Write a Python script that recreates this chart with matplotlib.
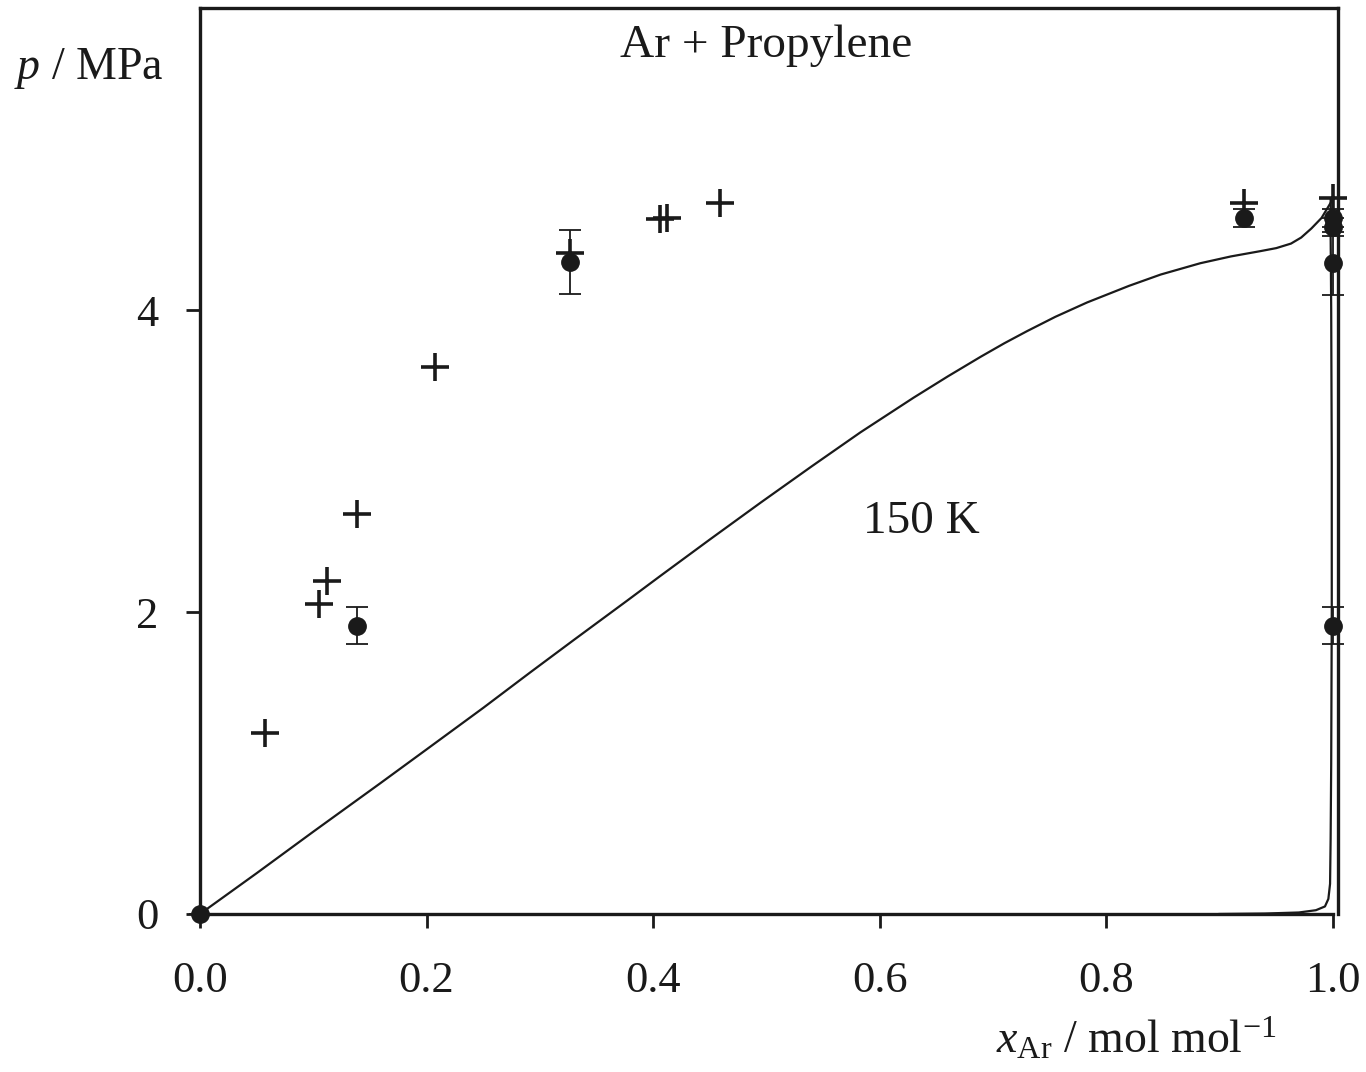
import numpy as np
import matplotlib
matplotlib.use("Agg")
import matplotlib.pyplot as plt

plt.rcParams['font.family'] = ['Liberation Serif', 'DejaVu Serif']
plt.rcParams['mathtext.fontset'] = 'custom'
plt.rcParams['mathtext.rm'] = 'Liberation Serif'
plt.rcParams['mathtext.it'] = 'Liberation Serif:italic'

# Measured liquid/vapour compositions with uncertainty in pressure
meas_x = [0.0, 0.1386, 0.3266, 0.9214, 1.0, 1.0, 1.0, 1.0]
meas_p = [0.0, 1.910, 4.317, 4.607, 4.607, 4.550, 4.310, 1.910]
meas_err = [0.0, 0.125, 0.21, 0.06, 0.06, 0.06, 0.21, 0.125]

# Literature data
lit_x = [0.0574, 0.105, 0.112, 0.1386, 0.2074, 0.3266, 0.406, 0.412, 0.459, 0.9214, 1.0]
lit_p = [1.197, 2.056, 2.208, 2.650, 3.623, 4.377, 4.600, 4.610, 4.710, 4.707, 4.740]

# Model bubble-point curve at 150 K
bub_x = [0.0, 0.05, 0.1, 0.159, 0.2, 0.25, 0.2915, 0.33, 0.377, 0.406, 0.45,
         0.495, 0.54, 0.583, 0.63, 0.66, 0.689, 0.71, 0.73, 0.755, 0.783,
         0.82, 0.848, 0.883, 0.91, 0.936, 0.95, 0.963, 0.972, 0.981, 0.99,
         0.998, 1.0]
bub_p = [0.0, 0.27, 0.545, 0.865, 1.09, 1.365, 1.60, 1.815, 2.075, 2.237, 2.48,
         2.725, 2.965, 3.19, 3.42, 3.56, 3.69, 3.78, 3.86, 3.955, 4.05,
         4.16, 4.235, 4.31, 4.355, 4.39, 4.41, 4.44, 4.48, 4.54, 4.61,
         4.71, 4.74]

# Model dew-point curve at 150 K
dew_x = [0.90, 0.94, 0.97, 0.985, 0.993, 0.996, 0.9975, 0.998, 0.9985, 0.999,
         0.999, 0.9985, 0.998, 0.998]
dew_p = [0.0, 0.003, 0.01, 0.025, 0.05, 0.10, 0.20, 0.50, 1.0, 2.0,
         3.0, 4.0, 4.5, 4.74]

x_ticks = [0.0, 0.2, 0.4, 0.6, 0.8, 1.0]
x_ticklabels = ['0.0', '0.2', '0.4', '0.6', '0.8', '1.0']
y_ticks = [0, 2, 4]
y_ticklabels = ['0', '2', '4']

fig = plt.figure(figsize=(13.66, 10.72), dpi=100)
ax = fig.add_axes([0.1464, 0.1474, 0.9795 - 0.1464, 0.9925 - 0.1474])

ax.plot(bub_x, bub_p, color='#1a1a1a', lw=1.6, zorder=2)
ax.plot(dew_x, dew_p, color='#1a1a1a', lw=1.6, zorder=2)

ax.errorbar(meas_x, meas_p, yerr=meas_err, fmt='o', color='#1a1a1a',
            ms=12.5, elinewidth=1.3, capsize=8, capthick=1.3, zorder=4,
            clip_on=False)
ax.plot(lit_x, lit_p, linestyle='none', marker='+', color='#1a1a1a',
        ms=20, mew=2.6, zorder=5, clip_on=False)

ax.set_xlim(0, 1.0045)
ax.set_ylim(0, 6)
ax.set_xticks(x_ticks)
ax.set_xticklabels(x_ticklabels)
ax.set_yticks(y_ticks)
ax.set_yticklabels(y_ticklabels)
ax.tick_params(direction='out', length=10, width=2, labelsize=32,
               colors='#1a1a1a')
ax.tick_params(axis='x', pad=24)
ax.tick_params(axis='y', pad=20)

for s in ax.spines.values():
    s.set_linewidth(2.4)
    s.set_color('#1a1a1a')
ax.spines['bottom'].set_bounds(0, 1.0)

ax.text(0.5, 5.75, 'Ar + Propylene', fontsize=34, ha='center', va='center',
        color='#1a1a1a')
ax.text(0.637, 2.6, '150 K', fontsize=34, ha='center', va='center',
        color='#1a1a1a')

fig.text(0.065, 0.936, r'$p$ / MPa', fontsize=33, ha='center', va='center',
         color='#1a1a1a')
fig.text(0.832, 0.030, r'$x_{\mathrm{Ar}}$ / mol mol$^{\mathrm{-1}}$',
         fontsize=33, ha='center', va='center', color='#1a1a1a')

fig.savefig('out.png', dpi=100)
